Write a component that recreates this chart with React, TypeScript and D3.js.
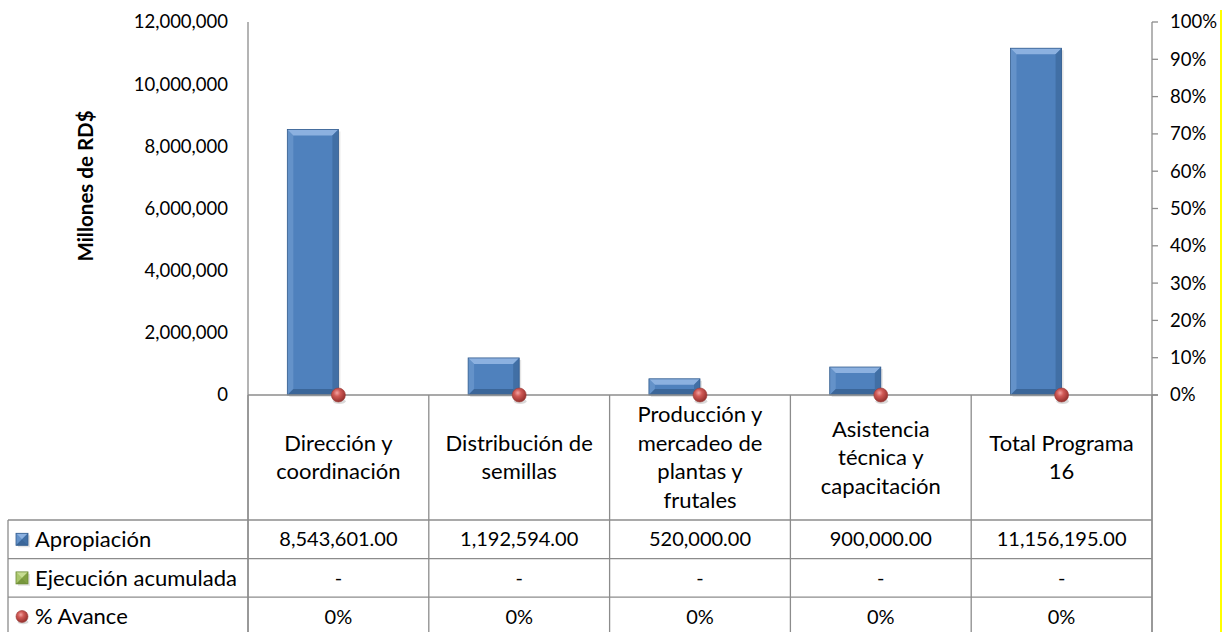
import React from 'react';
import * as d3 from 'd3';

// categories (wrapped as in the original data table)
const categoryLines: string[][] = [
  ['Dirección y', 'coordinación'],
  ['Distribución de', 'semillas'],
  ['Producción y', 'mercadeo de', 'plantas y', 'frutales'],
  ['Asistencia', 'técnica y', 'capacitación'],
  ['Total Programa', '16'],
];
const apropiacion = [8543601, 1192594, 520000, 900000, 11156195];
const ejecucion = [0, 0, 0, 0, 0];
const avance = [0, 0, 0, 0, 0];
const leftTicks = [0, 2000000, 4000000, 6000000, 8000000, 10000000, 12000000];
const rightTicks = [0, 0.1, 0.2, 0.3, 0.4, 0.5, 0.6, 0.7, 0.8, 0.9, 1];
const seriesNames = ['Apropiación', 'Ejecución acumulada', '% Avance'];

const W = 1224;
const H = 632;
const FONT = 'Lato, "Open Sans", sans-serif';
const GRID = '#8c8c8c';

const plot = { left: 248, right: 1152, top: 22, bottom: 395 };
const table = { left: 8, labelBottom: 520, rowH: 38.6 };

function BevelBar({ x, y, w, h, base, light, dark, darker }: any) {
  const b = Math.min(6, h / 2, w / 2);
  const x1 = x + w;
  const y1 = y + h;
  return (
    <g>
      <rect x={x + 2} y={y + 2} width={w} height={h} fill="#000" opacity={0.1} />
      <rect x={x} y={y} width={w} height={h} fill={base} />
      <polygon points={`${x},${y} ${x1},${y} ${x1 - b},${y + b} ${x + b},${y + b}`} fill={light} />
      <polygon points={`${x},${y} ${x + b},${y + b} ${x + b},${y1 - b} ${x},${y1}`} fill={light} opacity={0.35} />
      <polygon points={`${x1},${y} ${x1},${y1} ${x1 - b},${y1 - b} ${x1 - b},${y + b}`} fill={dark} opacity={0.8} />
      <polygon points={`${x},${y1} ${x1},${y1} ${x1 - b},${y1 - b} ${x + b},${y1 - b}`} fill={darker} opacity={0.75} />
      <rect x={x} y={y} width={w} height={h} fill="none" stroke={darker} strokeWidth={0.8} />
    </g>
  );
}

function Sphere({ cx, cy, r }: { cx: number; cy: number; r: number }) {
  return (
    <g>
      <ellipse cx={cx + 1} cy={cy + r * 0.9} rx={r * 0.9} ry={r * 0.4} fill="#000" opacity={0.15} />
      <circle cx={cx} cy={cy} r={r} fill="url(#sphereGrad)" stroke="#9a3b38" strokeWidth={0.6} />
    </g>
  );
}

export default function App() {
  const idx = d3.range(categoryLines.length);
  const x = d3.scaleBand<number>().domain(idx).range([plot.left, plot.right]).padding(0);
  const xSub = d3
    .scaleBand<string>()
    .domain(['apropiacion', 'ejecucion'])
    .range([0, x.bandwidth()])
    .paddingInner(0)
    .paddingOuter(0.77);
  const yL = d3.scaleLinear().domain([0, 12000000]).range([plot.bottom, plot.top]);
  const yR = d3.scaleLinear().domain([0, 1]).range([plot.bottom, plot.top]);

  const fmtNum = d3.format(',');
  const fmtVal = (v: number) => (v === 0 ? '-' : d3.format(',.2f')(v));
  const fmtPct = d3.format('.0%');

  const rowTops = [0, 1, 2].map((i) => table.labelBottom + i * table.rowH);
  const tableBottom = table.labelBottom + 3 * table.rowH;
  const boundaries = idx.map((i) => x(i) as number).concat([plot.right]);
  const labelMid = (plot.bottom + table.labelBottom) / 2;
  const lineH = 28.5;

  const rowValues = [
    apropiacion.map(fmtVal),
    ejecucion.map(fmtVal),
    avance.map((v) => fmtPct(v)),
  ];

  return (
    <svg
      width={W}
      height={H}
      style={{ position: 'absolute', left: 0, top: 0, background: '#fff' }}
      fontFamily={FONT}
    >
      <defs>
        <radialGradient id="sphereGrad" cx="40%" cy="35%" r="70%">
          <stop offset="0%" stopColor="#f2a4a2" />
          <stop offset="35%" stopColor="#d05a56" />
          <stop offset="100%" stopColor="#8e2b28" />
        </radialGradient>
      </defs>
      <rect width={W} height={H} fill="#fff" />

      {/* yellow edge line */}
      <line x1={1221} x2={1221} y1={10} y2={H} stroke="#ffff00" strokeWidth={2} />

      {/* left axis */}
      <line x1={plot.left} x2={plot.left} y1={plot.top} y2={H} stroke={GRID} strokeWidth={1.3} />
      {leftTicks.map((t) => (
        <text key={t} x={228} y={yL(t)} dy="0.35em" textAnchor="end" fontSize={18.5} fill="#000">
          {fmtNum(t)}
        </text>
      ))}
      <text
        transform={`translate(93,186) rotate(-90)`}
        textAnchor="middle"
        fontSize={20.5}
        fontWeight="bold"
        fill="#000"
      >
        Millones de RD$
      </text>

      {/* right axis */}
      <line x1={plot.right} x2={plot.right} y1={plot.top} y2={H} stroke={GRID} strokeWidth={1.3} />
      {rightTicks.map((t) => (
        <g key={t}>
          <line x1={plot.right} x2={plot.right + 6} y1={yR(t)} y2={yR(t)} stroke={GRID} strokeWidth={1.3} />
          <text x={1170} y={yR(t)} dy="0.35em" fontSize={18.5} fill="#000">
            {fmtPct(t)}
          </text>
        </g>
      ))}

      {/* bars */}
      {idx.map((i) => {
        const x0 = (x(i) as number) + (xSub('apropiacion') as number);
        const yTop = yL(apropiacion[i]);
        return (
          <BevelBar
            key={i}
            x={x0}
            y={yTop}
            w={xSub.bandwidth()}
            h={plot.bottom - yTop}
            base="#4f81bd"
            light="#8cb1e0"
            dark="#3d6a9f"
            darker="#345d8e"
          />
        );
      })}

      {/* category axis line */}
      <line x1={plot.left} x2={plot.right + 6} y1={plot.bottom} y2={plot.bottom} stroke={GRID} strokeWidth={1.3} />

      {/* % avance markers */}
      {idx.map((i) => (
        <Sphere key={i} cx={(x(i) as number) + x.bandwidth() / 2} cy={yR(avance[i])} r={7} />
      ))}

      {/* data table grid */}
      {boundaries.map((b, i) => (
        <line key={i} x1={b} x2={b} y1={plot.bottom} y2={H} stroke={GRID} strokeWidth={1.3} />
      ))}
      <line x1={table.left} x2={table.left} y1={table.labelBottom} y2={H} stroke={GRID} strokeWidth={1.3} />
      {rowTops.concat([tableBottom]).map((r, i) => (
        <line key={i} x1={table.left} x2={plot.right} y1={r} y2={r} stroke={GRID} strokeWidth={1.3} />
      ))}

      {/* category labels */}
      {categoryLines.map((lines, i) => {
        const cx = (x(i) as number) + x.bandwidth() / 2;
        const start = labelMid - ((lines.length - 1) * lineH) / 2;
        return (
          <text key={i} textAnchor="middle" fontSize={22} fill="#000">
            {lines.map((l, j) => (
              <tspan key={j} x={cx} y={start + j * lineH} dy="0.35em">
                {l}
              </tspan>
            ))}
          </text>
        );
      })}

      {/* table rows */}
      {rowValues.map((vals, r) => {
        const cy = rowTops[r] + table.rowH / 2;
        return (
          <g key={r}>
            {r === 0 && (
              <BevelBar x={16} y={cy - 6} w={12} h={12} base="#4f81bd" light="#8cb1e0" dark="#3d6a9f" darker="#345d8e" />
            )}
            {r === 1 && (
              <BevelBar x={16} y={cy - 6} w={12} h={12} base="#9bbb59" light="#c6dc92" dark="#7a9a3c" darker="#6b8a33" />
            )}
            {r === 2 && <Sphere cx={22} cy={cy} r={6} />}
            <text x={35} y={cy} dy="0.35em" fontSize={22} fill="#000">
              {seriesNames[r]}
            </text>
            {vals.map((v, i) => (
              <text
                key={i}
                x={(x(i) as number) + x.bandwidth() / 2}
                y={cy}
                dy="0.35em"
                textAnchor="middle"
                fontSize={20}
                fill="#000"
              >
                {v}
              </text>
            ))}
          </g>
        );
      })}
    </svg>
  );
}
